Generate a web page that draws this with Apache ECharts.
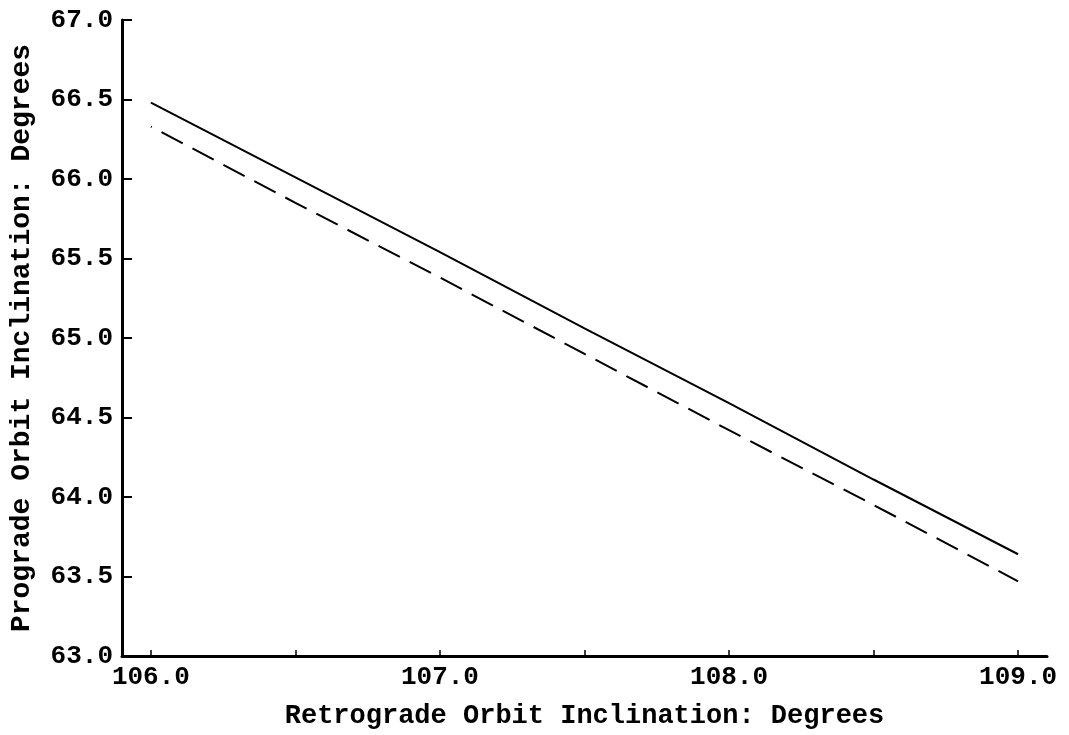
<!DOCTYPE html>
<html>
<head>
<meta charset="utf-8">
<script src="https://cdn.jsdelivr.net/npm/echarts@6/dist/echarts.min.js"></script>
<style>
html,body{margin:0;padding:0;background:#fff;}
#chart{width:1069px;height:735px;}
</style>
</head>
<body>
<div id="chart"></div>
<script>
var xValues = [106, 106.5, 107, 107.5, 108, 108.5, 109];
var solidValues = [66.48, 66.01, 65.54, 65.06, 64.59, 64.11, 63.64];
var dashedValues = [66.33, 65.85, 65.38, 64.90, 64.42, 63.95, 63.47];
var xTickValues = [106, 106.5, 107, 107.5, 108, 108.5, 109];
var xLabelValues = [106, 107, 108, 109];
var xTitle = 'Retrograde Orbit Inclination: Degrees';
var yTitle = 'Prograde Orbit Inclination: Degrees';

var FONT = '"Liberation Mono", "DejaVu Sans Mono", monospace';

function pairs(xs, ys) {
  return xs.map(function (x, i) { return [x, ys[i]]; });
}

var chart = echarts.init(document.getElementById('chart'), null, {renderer: 'canvas'});
chart.setOption({
  backgroundColor: '#ffffff',
  animation: false,
  grid: {left: 118, right: 22, top: 20, bottom: 77, containLabel: false},
  xAxis: {
    type: 'value',
    min: 105.9,
    max: 109.1,
    name: xTitle,
    nameLocation: 'middle',
    nameGap: 47,
    nameTextStyle: {fontFamily: FONT, fontWeight: 'bold', fontSize: 27, color: '#000'},
    axisLine: {show: true, onZero: false, lineStyle: {color: '#000', width: 3}},
    axisTick: {show: true, inside: true, length: 6, customValues: xTickValues, lineStyle: {color: '#000', width: 1.5}},
    axisLabel: {show: true, customValues: xLabelValues, margin: 8, fontFamily: FONT, fontWeight: 'bold', fontSize: 26, color: '#000',
      formatter: function (v) { return Number(v).toFixed(1); }},
    splitLine: {show: false}
  },
  yAxis: {
    type: 'value',
    min: 63,
    max: 67,
    interval: 0.5,
    name: yTitle,
    nameLocation: 'middle',
    nameGap: 86,
    nameRotate: 90,
    nameTextStyle: {fontFamily: FONT, fontWeight: 'bold', fontSize: 28, color: '#000'},
    axisLine: {show: true, onZero: false, lineStyle: {color: '#000', width: 3}},
    axisTick: {show: true, inside: true, length: 10, lineStyle: {color: '#000', width: 2}},
    axisLabel: {show: true, margin: 9, fontFamily: FONT, fontWeight: 'bold', fontSize: 26, color: '#000',
      formatter: function (v) { return Number(v).toFixed(1); }},
    splitLine: {show: false}
  },
  series: [
    {
      type: 'line',
      data: pairs(xValues, solidValues),
      symbol: 'none',
      smooth: false,
      lineStyle: {color: '#000', width: 2, type: 'solid'}
    },
    {
      type: 'line',
      data: pairs(xValues, dashedValues),
      symbol: 'none',
      smooth: false,
      lineStyle: {color: '#000', width: 2, type: [24, 11], dashOffset: 23}
    }
  ]
});
</script>
</body>
</html>
